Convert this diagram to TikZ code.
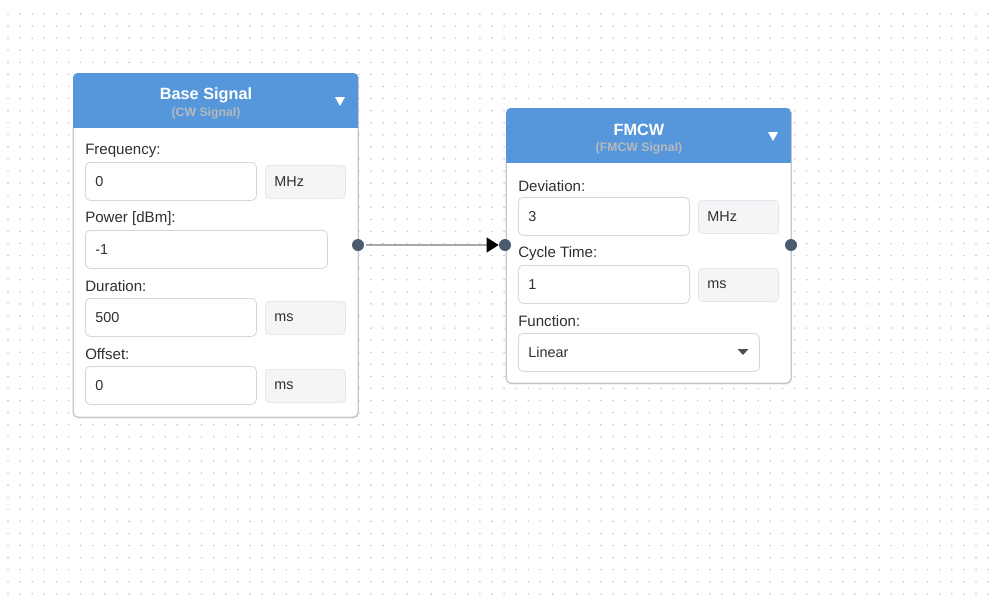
\documentclass[tikz,border=0pt]{standalone}
\usepackage{fontspec}
\setmainfont{Liberation Sans}
\usetikzlibrary{arrows.meta,shadows}
\definecolor{hdr}{HTML}{5697DC}
\definecolor{sub}{HTML}{B7B9BC}
\definecolor{cardb}{HTML}{C3C7D0}
\definecolor{inb}{HTML}{D4D7DC}
\definecolor{unitf}{HTML}{F4F5F6}
\definecolor{unitb}{HTML}{E4E6E9}
\definecolor{port}{HTML}{4B5B6E}
\definecolor{lbl}{HTML}{303030}
\definecolor{dotc}{HTML}{C9CBCF}
\definecolor{wire}{HTML}{A8A8A8}
\tikzset{
  card/.style={draw=cardb, fill=white, rounded corners=3.5pt, line width=0.7pt, anchor=north west, inner sep=0pt,
    drop shadow={opacity=0.10, shadow xshift=0pt, shadow yshift=-1pt}},
  field/.style={draw=inb, fill=white, rounded corners=3.5pt, line width=0.6pt, anchor=north west,
    inner xsep=7.5pt, inner ysep=0pt, align=left, font=\fontsize{10.8}{12}\selectfont, text=lbl},
  unitbox/.style={draw=unitb, fill=unitf, rounded corners=3pt, line width=0.6pt, anchor=north west,
    inner xsep=6.75pt, inner ysep=0pt, align=left, font=\fontsize{10.8}{12}\selectfont, text=lbl},
  lab/.style={anchor=west, inner sep=0pt, font=\fontsize{11.3}{13}\selectfont, text=lbl},
  title/.style={inner sep=0pt, font=\bfseries\fontsize{12.2}{14}\selectfont, text=white},
  subtitle/.style={inner sep=0pt, font=\bfseries\fontsize{9.2}{10}\selectfont, text=sub},
  portdot/.style={circle, fill=port, inner sep=0pt, minimum size=9pt},
}
\begin{document}
\begin{tikzpicture}[x=0.75pt,y=-0.75pt]
\useasboundingbox (0,0) rectangle (1000,604);
\fill[white] (0,0) rectangle (1000,604);
% dot grid
\foreach \i in {0,...,81}{
  \foreach \j in {0,...,48}{
    \fill[dotc] (8+12.1*\i,14+12.08*\j) circle (0.7pt);
  }
}
% ---------- Base Signal card ----------
\node[card, minimum width=213.75pt, minimum height=258pt] (base) at (73,73) {};
\begin{scope}
  \clip[rounded corners=3.5pt] (73,73) rectangle (358,417);
  \fill[hdr] (73,73) rectangle (358,128);
\end{scope}
\draw[cardb, line width=0.7pt, rounded corners=3.5pt] (73,128) -- (73,417) -- (358,417) -- (358,128);
\node[title] (bt) at (206,95) {Base Signal};
\node[subtitle] (bs) at (206,113.5) {(CW Signal)};
\fill[white] (335,97) -- (345,97) -- (340,106) -- cycle;

\node[lab] (l1) at (85,151) {Frequency:};
\node[field, minimum width=128.25pt, minimum height=28.5pt, text width=113.25pt] (f1) at (85,162) {0};
\node[unitbox, minimum width=60pt, minimum height=24.75pt, text width=46.5pt] (u1) at (265,165) {MHz};

\node[lab] (l2) at (85,219) {Power [dBm]:};
\node[field, minimum width=181.5pt, minimum height=28.5pt, text width=166.5pt] (f2) at (85,230) {-1};

\node[lab] (l3) at (85,286) {Duration:};
\node[field, minimum width=128.25pt, minimum height=28.5pt, text width=113.25pt] (f3) at (85,298) {500};
\node[unitbox, minimum width=60pt, minimum height=24.75pt, text width=46.5pt] (u3) at (265,301) {ms};

\node[lab] (l4) at (85,354) {Offset:};
\node[field, minimum width=128.25pt, minimum height=28.5pt, text width=113.25pt] (f4) at (85,366) {0};
\node[unitbox, minimum width=60pt, minimum height=24.75pt, text width=46.5pt] (u4) at (265,369) {ms};

% ---------- FMCW card ----------
\node[card, minimum width=213.75pt, minimum height=206.25pt] (fm) at (506,108) {};
\begin{scope}
  \clip[rounded corners=3.5pt] (506,108) rectangle (791,383);
  \fill[hdr] (506,108) rectangle (791,163);
\end{scope}
\draw[cardb, line width=0.7pt, rounded corners=3.5pt] (506,163) -- (506,383) -- (791,383) -- (791,163);
\node[title] (ft) at (639,130) {FMCW};
\node[subtitle] (fs) at (639,148) {(FMCW Signal)};
\fill[white] (768,132) -- (778,132) -- (773,141) -- cycle;

\node[lab] (m1) at (518,186) {Deviation:};
\node[field, minimum width=128.25pt, minimum height=28.5pt, text width=113.25pt] (g1) at (518,197) {3};
\node[unitbox, minimum width=60pt, minimum height=24.75pt, text width=46.5pt] (v1) at (698,200) {MHz};

\node[lab] (m2) at (518,254) {Cycle Time:};
\node[field, minimum width=128.25pt, minimum height=28.5pt, text width=113.25pt] (g2) at (518,265) {1};
\node[unitbox, minimum width=60pt, minimum height=24.75pt, text width=46.5pt] (v2) at (698,268) {ms};

\node[lab] (m3) at (518,321) {Function:};
\node[field, minimum width=180.75pt, minimum height=28.5pt, text width=165.75pt] (g3) at (518,333) {Linear};
\fill[lbl!85] (737.5,349) -- (748.5,349) -- (743,355) -- cycle;

% ---------- ports & connector ----------
\node[portdot] (pout) at (358,245) {};
\node[portdot] (pin) at (505,245) {};
\node[portdot] (pout2) at (791,245) {};
\draw[wire, line width=1.5pt, shorten <=1.5pt, -{Triangle[length=9pt, width=11pt, color=black]}] (pout.east) -- (pin.west);
\end{tikzpicture}
\end{document}
